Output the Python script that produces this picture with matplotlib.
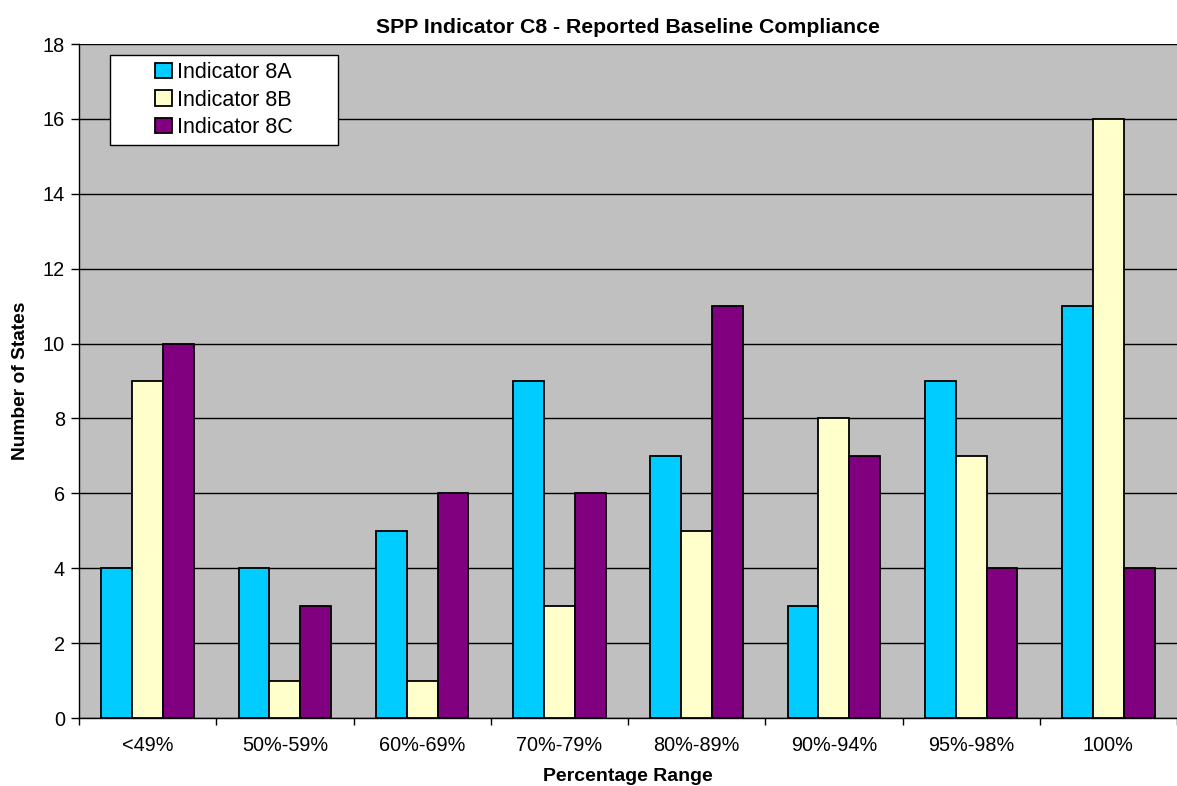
import numpy as np
import matplotlib.pyplot as plt
from matplotlib.patches import Rectangle
from matplotlib.ticker import FixedLocator

categories = ["<49%", "50%-59%", "60%-69%", "70%-79%", "80%-89%", "90%-94%", "95%-98%", "100%"]
ind_8a = [4, 4, 5, 9, 7, 3, 9, 11]
ind_8b = [9, 1, 1, 3, 5, 8, 7, 16]
ind_8c = [10, 3, 6, 6, 11, 7, 4, 4]

plt.rcParams['font.family'] = ['Liberation Sans', 'DejaVu Sans']

fig = plt.figure(figsize=(11.77, 7.86), dpi=100)
ax = fig.add_axes([79 / 1177, 1 - 718 / 786, 1 - 79 / 1177, (718 - 44) / 786])

x = np.arange(len(categories))
w = 0.225
series = [(ind_8a, "#00CCFF", "Indicator 8A"),
          (ind_8b, "#FFFFCC", "Indicator 8B"),
          (ind_8c, "#800080", "Indicator 8C")]
for i, (vals, col, lab) in enumerate(series):
    ax.bar(x + (i - 1) * w, vals, w, color=col, edgecolor="black", linewidth=1.3,
           label=lab, zorder=3)

ax.set_facecolor("#C0C0C0")
ax.set_xlim(-0.5, len(categories) - 0.5)
ax.set_ylim(0, 18)
ax.set_yticks(np.arange(0, 19, 2))
ax.yaxis.grid(True, color="black", linewidth=1, zorder=1)
ax.set_axisbelow(True)

ax.set_xticks(x)
ax.set_xticklabels(categories, fontsize=14.3)
ax.tick_params(axis="x", length=0, pad=13)
ax.xaxis.set_minor_locator(FixedLocator(np.arange(-0.5, len(categories), 1)))
ax.tick_params(axis="x", which="minor", length=5, width=1, color="black")
ax.tick_params(axis="y", length=6, width=1, labelsize=14.3, pad=4)

for s in ["top", "right"]:
    ax.spines[s].set_visible(False)
ax.spines["left"].set_linewidth(1)
ax.spines["bottom"].set_linewidth(1)

ax.set_title("SPP Indicator C8 - Reported Baseline Compliance", fontsize=15.3,
             fontweight="bold", pad=8)
ax.set_xlabel("Percentage Range", fontsize=14, fontweight="bold", labelpad=9)
ax.set_ylabel("Number of States", fontsize=13.8, fontweight="bold", labelpad=10)

# legend box in pixels: x 110..338, y 55..145 (axes spans x 79..1177, y 44..718)
box_x0 = (110 - 79) / 1098
box_w = 228 / 1098
box_y1 = 1 - (55 - 44) / 674
box_h = 90 / 674
ax.add_patch(Rectangle((box_x0, box_y1 - box_h), box_w, box_h, transform=ax.transAxes,
                       facecolor="white", edgecolor="black", linewidth=1, zorder=4))

leg = ax.legend(loc="center", bbox_to_anchor=(box_x0 + box_w / 2, box_y1 - box_h / 2),
                fontsize=15.5, frameon=False,
                handlelength=0.75, handleheight=0.75, handletextpad=0.25,
                borderpad=0, labelspacing=0.3, borderaxespad=0)
leg.set_zorder(5)

fig.savefig("out.png", dpi=100)
